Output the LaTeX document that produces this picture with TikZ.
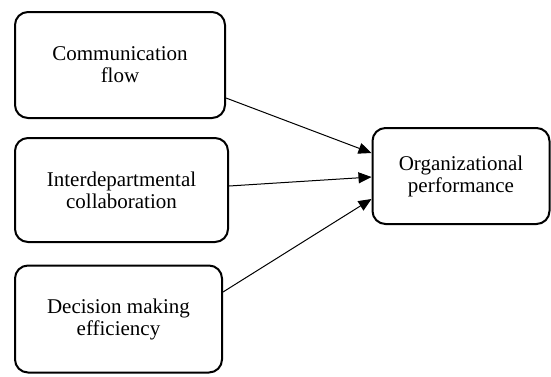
\documentclass[tikz,border=0pt]{standalone}
\usepackage{fontspec}
\setmainfont{Liberation Serif}
\usetikzlibrary{arrows.meta}
\begin{document}
\begin{tikzpicture}[x=1pt,y=-1pt,
  box/.style={draw, line width=2pt, rounded corners=13pt, align=center, inner sep=0pt,
    font=\fontsize{21}{22}\selectfont},
  arr/.style={line width=1pt, -{Triangle[length=13pt,width=11pt]}}]
\useasboundingbox (0,0) rectangle (551,376);
\node[box, minimum width=210pt, minimum height=106pt] (b1) at (120,65) {Communication\\flow};
\node[box, minimum width=213pt, minimum height=104pt] (b2) at (121.5,190) {Interdepartmental\\collaboration};
\node[box, minimum width=207pt, minimum height=107pt] (b3) at (118.5,319) {\raisebox{-6pt}{\parbox{170pt}{\centering Decision making\\efficiency}}};
\node[box, minimum width=177pt, minimum height=96pt] (b4) at (461,176) {\raisebox{6pt}{\parbox{160pt}{\centering Organizational\\performance}}};
\draw[arr] ([yshift=-33pt]b1.east) -- ([yshift=23pt]b4.west);
\draw[arr] ([yshift=4pt]b2.east) -- ([yshift=-1pt]b4.west);
\draw[arr] ([yshift=27pt]b3.east) -- ([yshift=-23pt]b4.west);
\end{tikzpicture}
\end{document}
